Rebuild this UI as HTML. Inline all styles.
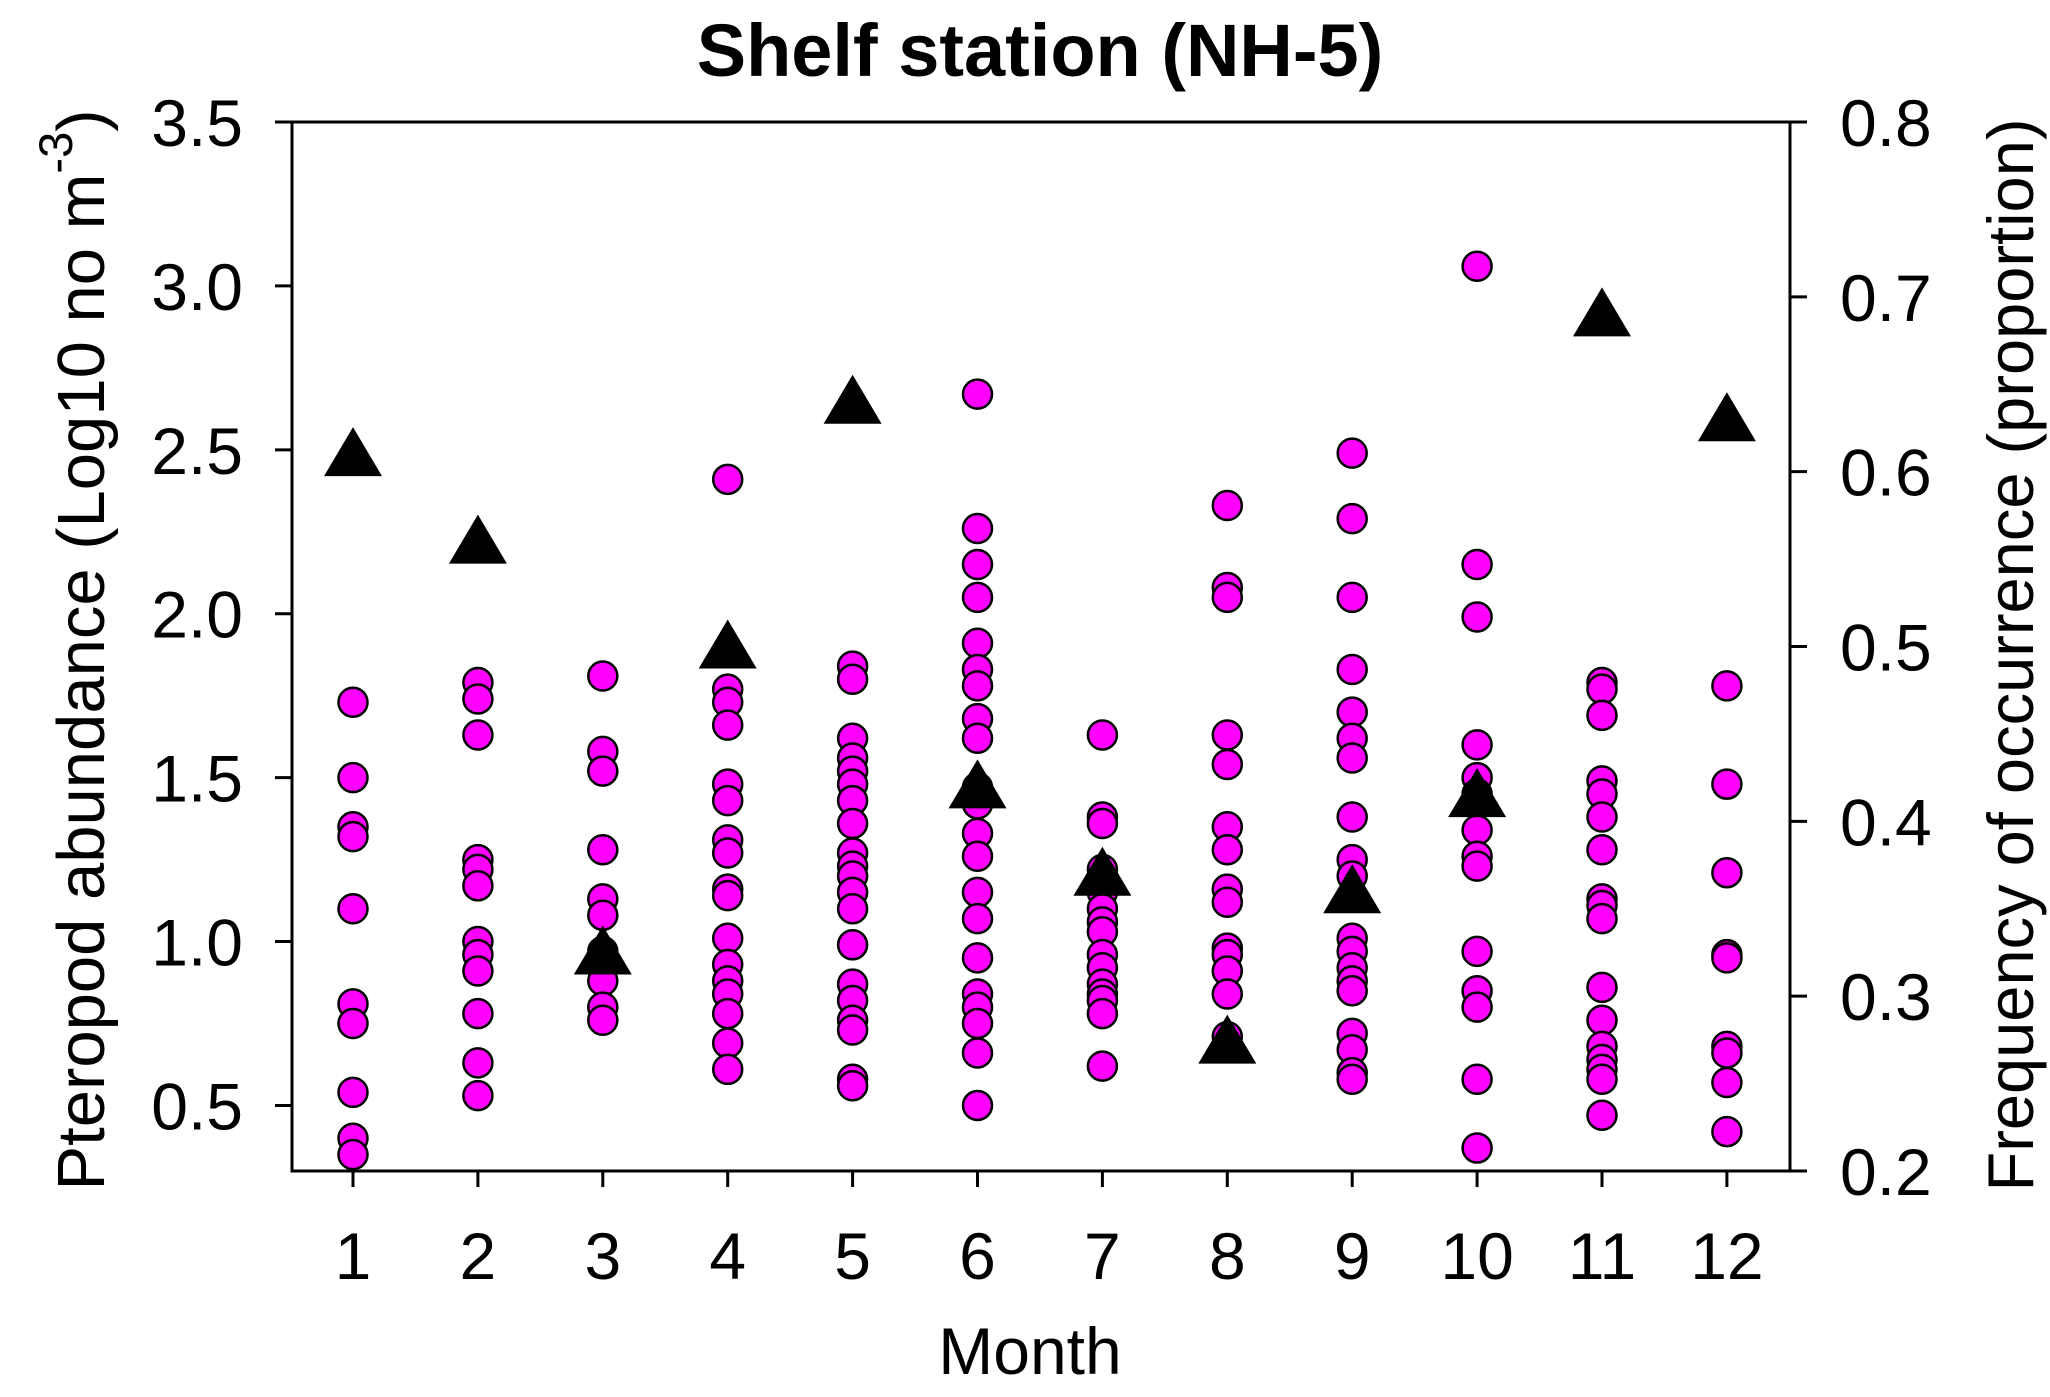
<!DOCTYPE html>
<html><head><meta charset="utf-8"><style>
html,body{margin:0;padding:0;background:#fff;}
svg{display:block;font-family:"Liberation Sans",Arial,sans-serif;}
</style></head><body>
<svg id="chart" width="2050" height="1397" viewBox="0 0 2050 1397" xmlns="http://www.w3.org/2000/svg">
<text x="1040" y="76" font-size="74" font-weight="bold" text-anchor="middle">Shelf station (NH-5)</text>
<g id="axes"></g>
<g id="points"></g>
<g id="tris"></g>
<rect x="292" y="122" width="1498" height="1049" fill="none" stroke="#000" stroke-width="3"/>
<text x="1030" y="1374" font-size="66" text-anchor="middle">Month</text>
<text transform="translate(104,650) rotate(-90)" font-size="67" text-anchor="middle">Pteropod abundance (Log10 no m<tspan dy="-32" font-size="47">-3</tspan><tspan dy="32">)</tspan></text>
<text transform="translate(2033,655) rotate(-90)" font-size="65" text-anchor="middle">Frequency of occurrence (proportion)</text>
</svg>
<script>
const months = [1,2,3,4,5,6,7,8,9,10,11,12];
const leftTicks = [0.5,1.0,1.5,2.0,2.5,3.0,3.5];
const leftTickLabels = ["0.5","1.0","1.5","2.0","2.5","3.0","3.5"];
const rightTicks = [0.2,0.3,0.4,0.5,0.6,0.7,0.8];
const rightTickLabels = ["0.2","0.3","0.4","0.5","0.6","0.7","0.8"];
const frequency = [0.61,0.56,0.325,0.50,0.64,0.42,0.37,0.274,0.36,0.415,0.69,0.63];
const abund1 = [1.73,1.50,1.35,1.32,1.10,0.81,0.75,0.54,0.40,0.35];
const abund2 = [1.79,1.74,1.63,1.25,1.22,1.17,1.00,0.96,0.91,0.78,0.63,0.53];
const abund3 = [1.81,1.58,1.52,1.28,1.13,1.08,0.97,0.88,0.80,0.76];
const abund4 = [2.41,1.77,1.73,1.66,1.48,1.43,1.31,1.27,1.16,1.14,1.01,0.93,0.88,0.84,0.78,0.69,0.61];
const abund5 = [1.84,1.80,1.62,1.56,1.52,1.48,1.43,1.36,1.27,1.23,1.20,1.15,1.10,0.99,0.87,0.82,0.76,0.73,0.58,0.56];
const abund6 = [2.67,2.26,2.15,2.05,1.91,1.83,1.78,1.68,1.62,1.47,1.42,1.33,1.26,1.15,1.07,0.95,0.84,0.80,0.75,0.66,0.50];
const abund7 = [1.63,1.38,1.36,1.22,1.15,1.10,1.06,1.03,0.96,0.92,0.87,0.84,0.82,0.78,0.62];
const abund8 = [2.33,2.08,2.05,1.63,1.54,1.35,1.28,1.16,1.12,0.98,0.96,0.91,0.84,0.71];
const abund9 = [2.49,2.29,2.05,1.83,1.70,1.62,1.56,1.38,1.25,1.20,1.01,0.97,0.92,0.88,0.85,0.72,0.67,0.60,0.58];
const abund10 = [3.06,2.15,1.99,1.60,1.50,1.45,1.34,1.26,1.23,0.97,0.85,0.80,0.58,0.37];
const abund11 = [1.79,1.77,1.69,1.49,1.45,1.38,1.28,1.13,1.11,1.07,0.86,0.76,0.68,0.64,0.61,0.58,0.47];
const abund12 = [1.78,1.48,1.21,0.96,0.95,0.68,0.66,0.57,0.42];
const abundance = [abund1,abund2,abund3,abund4,abund5,abund6,abund7,abund8,abund9,abund10,abund11,abund12];

const NS="http://www.w3.org/2000/svg";
const X0=292,X1=1790,Y0=122,Y1=1171;
function xS(m){return 353+(m-1)*124.9;}
function yL(v){return Y1-(v-0.3)/(3.5-0.3)*(Y1-Y0);}
function yR(v){return Y1-(v-0.2)/(0.8-0.2)*(Y1-Y0);}
function mk(tag,attrs,parent){const e=document.createElementNS(NS,tag);for(const k in attrs)e.setAttribute(k,attrs[k]);parent.appendChild(e);return e;}
const axes=document.getElementById('axes');
leftTicks.forEach((v,i)=>{
  const y=yL(v);
  const t=mk('line',{x1:275,x2:X0,y1:y,y2:y,stroke:'#000','stroke-width':3},axes);
  
  
  const l=mk('text',{x:243,y:y+24,'font-size':66,'text-anchor':'end'},axes);
  
  
  l.textContent=leftTickLabels[i];
});
rightTicks.forEach((v,i)=>{
  const y=yR(v);
  const t=mk('line',{x1:X1,x2:1807,y1:y,y2:y,stroke:'#000','stroke-width':3},axes);
  
  
  const l=mk('text',{x:1840,y:y+24,'font-size':66},axes);
  
  
  l.textContent=rightTickLabels[i];
});
months.forEach(m=>{
  const x=xS(m);
  const t=mk('line',{x1:x,x2:x,y1:Y1,y2:1187,stroke:'#000','stroke-width':3},axes);
  
  
  const l=mk('text',{x:x,y:1279,'font-size':66,'text-anchor':'middle'},axes);
  
  
  l.textContent=String(m);
});
const pts=document.getElementById('points');
abundance.forEach((arr,i)=>{
  arr.forEach(v=>{
    const c=mk('circle',{cx:xS(months[i]),cy:yL(v),r:14.5,fill:'#ff00ff',stroke:'#000','stroke-width':2.5},pts);
    
    
  });
});
const tris=document.getElementById('tris');
frequency.forEach((v,i)=>{
  const x=xS(months[i]),y=yR(v);
  const p=mk('polygon',{points:`${x},${y-27} ${x+29},${y+22} ${x-29},${y+22}`,fill:'#000'},tris);
  
  
});
</script>
</body></html>
